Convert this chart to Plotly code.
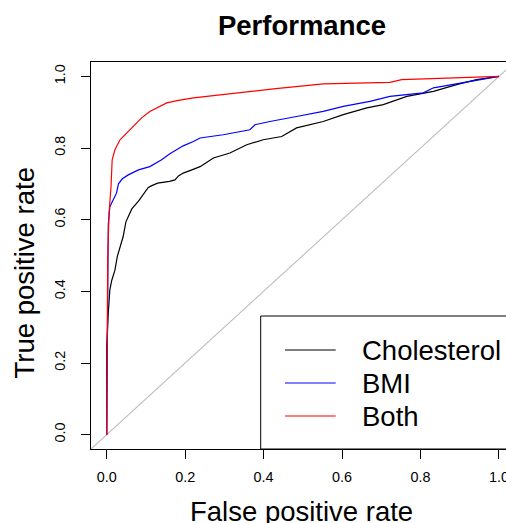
import plotly.graph_objects as go

# ROC curve points
fpr_chol = [0, 0, 0.004, 0.008, 0.013, 0.021, 0.027, 0.034, 0.042, 0.049, 0.064, 0.081, 0.106, 0.115,
            0.130, 0.160, 0.174, 0.183, 0.195, 0.217, 0.238, 0.272, 0.314, 0.357, 0.399, 0.446,
            0.484, 0.552, 0.603, 0.663, 0.705, 0.765, 0.833, 0.892, 0.943, 1.0]
tpr_chol = [0, 0.245, 0.338, 0.404, 0.431, 0.459, 0.497, 0.525, 0.553, 0.594, 0.630, 0.652, 0.690, 0.695,
            0.702, 0.707, 0.711, 0.722, 0.730, 0.739, 0.748, 0.772, 0.786, 0.809, 0.823, 0.832,
            0.856, 0.874, 0.893, 0.912, 0.921, 0.944, 0.958, 0.977, 0.991, 1.0]

fpr_bmi = [0, 0.002, 0.004, 0.008, 0.017, 0.025, 0.030, 0.040, 0.055, 0.081, 0.110, 0.127, 0.140,
           0.161, 0.195, 0.221, 0.238, 0.297, 0.365, 0.378, 0.416, 0.484, 0.552, 0.603, 0.671,
           0.722, 0.807, 0.833, 0.909, 0.960, 1.0]
tpr_bmi = [0, 0.459, 0.585, 0.636, 0.655, 0.674, 0.700, 0.714, 0.725, 0.739, 0.748, 0.758, 0.767,
           0.784, 0.806, 0.818, 0.828, 0.837, 0.851, 0.865, 0.874, 0.888, 0.902, 0.916, 0.930,
           0.944, 0.954, 0.968, 0.982, 0.991, 1.0]

fpr_both = [0, 0.001, 0.0025, 0.006, 0.009, 0.011, 0.014, 0.021, 0.034, 0.055, 0.070, 0.089, 0.110,
            0.153, 0.183, 0.221, 0.255, 0.348, 0.425, 0.552, 0.722, 0.752, 0.892, 1.0]
tpr_both = [0, 0.30, 0.487, 0.618, 0.660, 0.692, 0.767, 0.795, 0.823, 0.846, 0.865, 0.884, 0.902,
            0.926, 0.933, 0.940, 0.944, 0.956, 0.965, 0.979, 0.983, 0.991, 0.996, 1.0]

series_names = ["Cholesterol", "BMI", "Both"]
series_colors = ["black", "blue", "red"]
tick_vals = [0, 0.2, 0.4, 0.6, 0.8, 1.0]
tick_text = ["0.0", "0.2", "0.4", "0.6", "0.8", "1.0"]

FONT = "Liberation Sans, Arial, Helvetica, sans-serif"
W, H = 506, 523
ML, MR, MT, MB = 91, 0, 62, 74
PW = W - ML - MR
PH = H - MT - MB
px_per_x = 392.3

fig = go.Figure()
# diagonal reference line
fig.add_trace(go.Scatter(x=[-0.1, 1.1], y=[-0.1, 1.1], mode="lines",
                         line=dict(color="#bebebe", width=1.1), showlegend=False, hoverinfo="skip"))
for xs, ys, name, col in zip([fpr_chol, fpr_bmi, fpr_both], [tpr_chol, tpr_bmi, tpr_both],
                             series_names, series_colors):
    fig.add_trace(go.Scatter(x=xs, y=ys, mode="lines", name=name,
                             line=dict(color=col, width=1.2), showlegend=False))

axis_common = dict(showgrid=False, zeroline=False, ticks="outside", ticklen=9, tickwidth=1,
                   tickcolor="black", tickvals=tick_vals, ticktext=tick_text, automargin=False,
                   ticklabeloverflow="allow",
                   tickfont=dict(family=FONT, size=14.4, color="black"))

fig.update_layout(
    width=W, height=H, margin=dict(l=ML, r=MR, t=MT, b=MB, autoexpand=False),
    plot_bgcolor="white", paper_bgcolor="white",
    xaxis=dict(range=[-0.04, -0.04 + PW / px_per_x], showline=True, linecolor="black",
               linewidth=1, mirror=True, ticklabelstandoff=6, **axis_common),
    yaxis=dict(range=[-0.04, 1.04], showline=True, linecolor="black", linewidth=1,
               tickangle=-90, ticklabelstandoff=10, **axis_common),
    title=dict(text="<b>Performance</b>", x=302 / W, xanchor="center", y=1 - 25 / H,
               yanchor="middle", font=dict(family=FONT, size=27.5, color="black")),
    showlegend=False,
)

def px2paper_x(px):
    return (px - ML) / PW

def py2paper_y(py):
    return (MT + PH - py) / PH

annotations = [
    dict(text="False positive rate", x=px2paper_x(301.5), y=py2paper_y(511), xref="paper",
         yref="paper", xanchor="center", yanchor="middle", showarrow=False,
         font=dict(family=FONT, size=27.5, color="black")),
    dict(text="True positive rate", x=px2paper_x(23.5), y=py2paper_y(273), xref="paper",
         yref="paper", xanchor="center", yanchor="middle", showarrow=False, textangle=-90,
         font=dict(family=FONT, size=27.5, color="black")),
]
shapes = [
    dict(type="rect", xref="paper", yref="paper", x0=px2paper_x(260.7), x1=1.1,
         y0=py2paper_y(449), y1=py2paper_y(316), line=dict(color="black", width=1),
         fillcolor="white", layer="above"),
]
legend_y = [350, 383, 416]
for name, col, ly in zip(series_names, series_colors, legend_y):
    shapes.append(dict(type="line", xref="paper", yref="paper", x0=px2paper_x(285),
                       x1=px2paper_x(335.7), y0=py2paper_y(ly), y1=py2paper_y(ly),
                       line=dict(color=col, width=1.2), layer="above"))
    annotations.append(dict(text=name, x=px2paper_x(360), y=py2paper_y(ly), xref="paper",
                            yref="paper", xanchor="left", yanchor="middle", showarrow=False,
                            font=dict(family=FONT, size=27.5, color="black")))

fig.update_layout(shapes=shapes, annotations=annotations)
fig.write_html("out.html", config={"displayModeBar": False},
               post_script="document.body.style.margin='0';document.body.style.overflow='hidden';")
